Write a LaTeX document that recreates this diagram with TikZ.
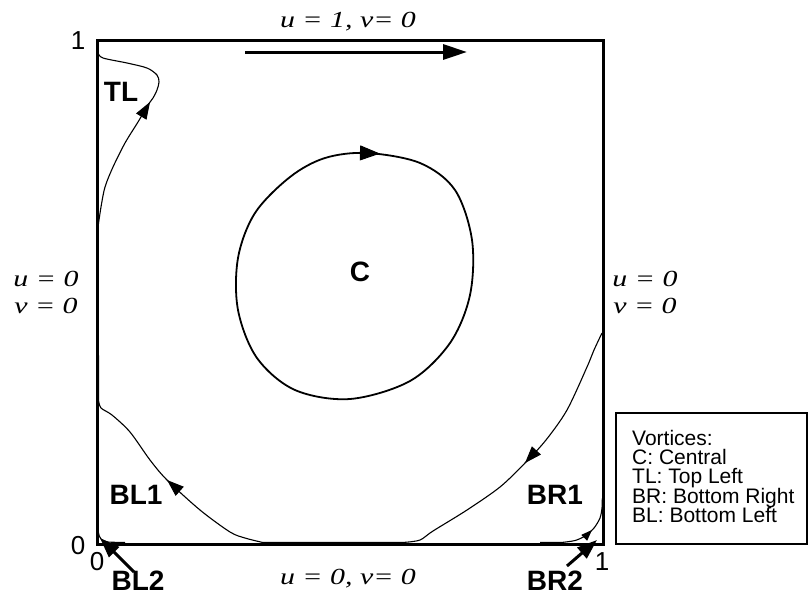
\documentclass[tikz,border=0pt]{standalone}
\usepackage{fontspec}
\setmainfont{Liberation Sans}
\newfontfamily\bcfont[FakeStretch=1.3]{Liberation Serif}
\usetikzlibrary{arrows.meta}
\tikzset{
  wall/.style={line width=3pt},
  stream/.style={line width=1.1pt},
  vortexline/.style={line width=1.8pt},
  headbig/.style={line width=1pt,-{Triangle[length=20pt,width=15pt]}},
  headmid/.style={line width=1pt,-{Triangle[length=17pt,width=12pt]}},
  headsmall/.style={line width=1pt,-{Triangle[length=11pt,width=8pt]}},
  pointer/.style={line width=3pt,-{Triangle[length=20pt,width=14pt]}},
  lab/.style={font=\fontsize{28}{30}\selectfont\bfseries, inner sep=0pt},
  num/.style={font=\fontsize{26}{28}\selectfont, inner sep=0pt},
  bc/.style={font=\fontsize{23}{25}\selectfont\bcfont\itshape, inner sep=0pt, anchor=base},
  leg/.style={font=\fontsize{21}{23}\selectfont, inner sep=0pt, anchor=base west},
}
\begin{document}
\begin{tikzpicture}[x=1pt,y=-1pt]
\useasboundingbox (0,0) rectangle (809,606);
% cavity
\draw[wall] (97,40) rectangle (603,544);
% lid arrow
\coordinate (lidA) at (245,52);
\coordinate (lidB) at (467,52);
\draw[wall,-{Triangle[length=24pt,width=15pt]}] (lidA) -- (lidB);
% boundary condition labels
\node[bc] (top) at (348,27) {u = 1, v= 0};
\node[bc] (bot) at (348,584) {u = 0, v= 0};
\node[bc] (lu) at (46,286) {u = 0};
\node[bc] (lv) at (46,313) {v = 0};
\node[bc] (ru) at (645,286) {u = 0};
\node[bc] (rv) at (645,313) {v = 0};
% axis numbers
\node[num] (n1) at (78,41) {1};
\node[num] (n0a) at (78,546) {0};
\node[num] (n0b) at (97,562) {0};
\node[num] (n1b) at (602,562) {1};
% central vortex
\draw[vortexline] plot[smooth cycle, tension=0.55] coordinates {
 (367,153) (420,163) (455,190) (472,240) (470,295) (450,343) (410,381)
 (350,399) (295,390) (257,358) (238,310) (238,258) (255,213) (290,177)
 (325,158)};
\draw[headbig] (368,153.2) -- (380,153.6);
% main secondary streamline
\draw[stream] plot[smooth, tension=0.5] coordinates {
 (602,333) (594,350) (587,367) (567,410) (546,440) (525,463) (500,487)
 (467,510) (433,531) (420,540) (405,542.3)}
 -- (262,542.3)
 -- plot[smooth, tension=0.5] coordinates {
 (262,542.3) (245,538) (230,532) (200,510) (167,480) (150,460) (130,432)
 (112,415) (101,408) (98.5,400)}
 -- (98.3,225)
 -- plot[smooth, tension=0.5] coordinates {
 (98.3,225) (101,207) (105,187) (113,167) (125,143) (138,122) (148,105)
 (153,98) (157,90) (159,82) (157,75) (147,68) (127,63) (103,58) (98,53)};
\draw[headmid] (529,458.6) -- (525,463);
\draw[headmid] (171.5,484) -- (167,480);
\draw[headmid] (147,107) -- (150,102);
% BR2 corner vortex
\draw[stream] (540,542.3) -- (563,542.3)
 -- plot[smooth, tension=0.5] coordinates {
 (563,542.3) (575,540.5) (585,536) (594,528) (600,518) (602,508) (602.3,498)};
\draw[headsmall] (588,534) -- (592,530);
% BL2 corner vortex
\draw[stream] plot[smooth, tension=0.5] coordinates {
 (98,518) (98.3,532) (101,539) (108,542) (125,542.3)};
% labels
\node[lab] (C) at (360,272) {C};
\node[lab] (TL) at (121,92) {TL};
\node[lab] (BL1) at (136,495) {BL1};
\node[lab] (BR1) at (555,495) {BR1};
\node[lab] (BL2) at (138,581) {BL2};
\node[lab] (BR2) at (555,581) {BR2};
% pointers
\coordinate (bl2from) at (134,572);
\coordinate (bl2tip) at (100,538);
\coordinate (br2from) at (567,566);
\coordinate (br2tip) at (597,540);
\draw[pointer] (bl2from) -- (bl2tip);
\draw[pointer] (br2from) -- (br2tip);
% legend
\draw[line width=2.5pt] (616,413) rectangle (807,544);
\node[leg] (l1) at (632,445) {Vortices:};
\node[leg] (l2) at (632,464.3) {C: Central};
\node[leg] (l3) at (632,483.6) {TL: Top Left};
\node[leg] (l4) at (632,503) {BR: Bottom Right};
\node[leg] (l5) at (632,522.3) {BL: Bottom Left};
\end{tikzpicture}
\end{document}
